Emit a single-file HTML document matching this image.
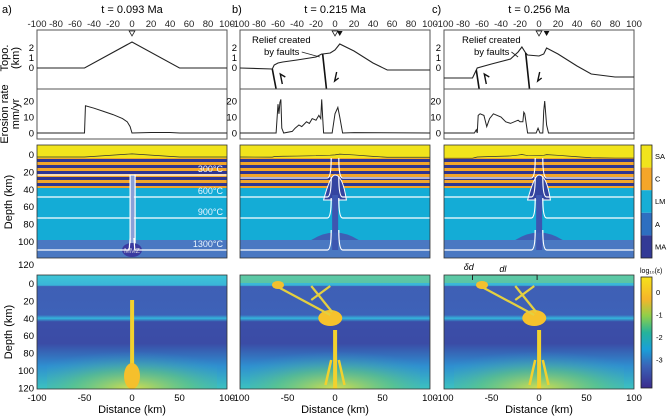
<!DOCTYPE html>
<html><head><meta charset="utf-8">
<style>
html,body{margin:0;padding:0;background:#fff;width:668px;height:419px;overflow:hidden;}
svg{display:block;font-family:"Liberation Sans",sans-serif;}
</style></head>
<body>
<svg id="fig" width="668" height="419" viewBox="0 0 668 419" xmlns="http://www.w3.org/2000/svg">
<defs>
  <linearGradient id="cbStrain" x1="0" y1="0" x2="0" y2="1">
    <stop offset="0" stop-color="#f7e21a"/><stop offset="0.2" stop-color="#f5b52a"/>
    <stop offset="0.35" stop-color="#8fcf4a"/><stop offset="0.5" stop-color="#25b39a"/>
    <stop offset="0.65" stop-color="#1aa0d8"/><stop offset="0.8" stop-color="#3a63b8"/>
    <stop offset="1" stop-color="#3b2b8c"/>
  </linearGradient>
  <linearGradient id="strainBg" x1="0" y1="0" x2="0" y2="1">
    <stop offset="0" stop-color="#3ec6d6"/><stop offset="0.09" stop-color="#3ab5d8"/>
    <stop offset="0.1" stop-color="#3f5fb5"/><stop offset="0.35" stop-color="#3d62b8"/>
    <stop offset="0.38" stop-color="#33b5dc"/><stop offset="0.41" stop-color="#3b4ea8"/>
    <stop offset="0.6" stop-color="#3b4ca6"/><stop offset="0.8" stop-color="#2f8fd0"/>
    <stop offset="1" stop-color="#3cc3c0"/>
  </linearGradient>
  <radialGradient id="plumeGlow" gradientUnits="objectBoundingBox" cx="0.5" cy="1" r="0.7">
    <stop offset="0" stop-color="#e8e040" stop-opacity="0.9"/>
    <stop offset="0.5" stop-color="#6cc870" stop-opacity="0.55"/>
    <stop offset="1" stop-color="#2ea0d0" stop-opacity="0"/>
  </radialGradient>
  <pattern id="stripes" width="6" height="6" patternUnits="userSpaceOnUse">
    <rect width="6" height="3" fill="#f2a52a"/><rect y="3" width="6" height="3" fill="#2e3592"/>
  </pattern>
  <clipPath id="clipS0"><rect x="37" y="275" width="190" height="114"/></clipPath>
  <clipPath id="clipS1"><rect x="240" y="275" width="190" height="114"/></clipPath>
  <clipPath id="clipS2"><rect x="444" y="275" width="190" height="114"/></clipPath>
</defs>
<g id="root"></g>
</svg>
<script>
// ---- data ----
const panelTitles = ["t = 0.093 Ma", "t = 0.215 Ma", "t = 0.256 Ma"];
const panelLetters = ["a)", "b)", "c)"];
const distTicks = [-100,-80,-60,-40,-20,0,20,40,60,80,100];
const bottomTicks = [-100,-50,0,50,100];
const topoTicks = [0,1,2];
const erosionTicks = [0,10,20];
const depthTicks = [0,20,40,60,80,100,120];
const isothermLabels = ["300°C","600°C","900°C","1300°C"];
const materialLabels = ["SA","C","LM","A","MA"];
const strainTicks = [0,-1,-2,-3];

const topoXa = [-100,-50,0,50,100];
const topoYa = [0,0,2.6,0,0];
const topoXb = [-100,-66,-64,-60,-55,-40,-20,-14,-13,-5,0,5,20,40,55,100];
const topoYb = [0,-0.1,0.3,0.5,0.6,0.8,1.1,1.4,1.4,1.5,1.8,2.4,1.7,0.5,-0.2,-0.2];
const topoXc = [-100,-70,-67,-65,-50,-30,-22,-18,-14,-12,0,5,8,20,40,55,80,100];
const topoYc = [-1,-1,-0.4,0,0.4,0.9,1.6,2.1,1.5,1.3,1.2,1.4,2.0,1.4,0.2,-0.6,-0.9,-0.9];

const eroXa = [-100,-50,-49,-40,-30,-20,-10,-5,-2,0,20,40,50,100];
const eroYa = [0,0,17,15.5,13.5,11.5,9,7,4,0,0.3,0.3,0,0];
const eroXb = [-100,-62,-60,-59,-58,-57,-56,-54,-45,-42,-38,-35,-30,-27,-24,-20,-17,-15,-14,-13,-12,-6,-3,0,3,5,8,20,100];
const eroYb = [0,0,18,12,19,21,3,0,1,3,5,4,7,6,9,8,11,9,21,10,0,0,0,12,16,10,0,0.2,0];
const eroXc = [-100,-68,-66,-65,-64,-62,-58,-55,-52,-48,-40,-35,-30,-22,-20,-17,-16,-15,-12,-5,-3,-1,1,4,5,6,8,10,100];
const eroYc = [0,0,2,0,11,12,11,4,9,12,10,7,6,8,7,7,13,12,0,0,0,3,0,0,14,20,5,0,0];

const faultsB = [[-66,-0.1,-62,-2.1],[-13,1.4,-9,-2.1]];
const faultsC = [[-66,-0.2,-63,-2.1],[-14,1.5,-10,-2.1]];

// ---- layout ----
const NS = "http://www.w3.org/2000/svg";
const root = document.getElementById("root");
const panelX0 = [37, 240, 444];
const letterX = [2, 232, 432];
const PW = 190;
function mk(tag, attrs, parent, text){
  const e = document.createElementNS(NS, tag);
  for (const k in attrs) e.setAttribute(k, attrs[k]);
  if (text !== undefined) e.textContent = text;
  (parent||root).appendChild(e);
  return e;
}
function xs(p, km){ return panelX0[p] + (km+100)/200*PW; }
const topoY = v => 68 - 10*v;
const eroY = v => 133 - 1.6*v;
const depthY = d => 155 + d*0.87;
const strainY = d => 284 + d*0.87;

const topoData = [[topoXa,topoYa],[topoXb,topoYb],[topoXc,topoYc]];
const eroData = [[eroXa,eroYa],[eroXb,eroYb],[eroXc,eroYc]];
const faults = [[], faultsB, faultsC];

for (let p=0;p<3;p++){
  const x0 = panelX0[p];
  const g = mk("g", {}, root);
  
  
  let t = mk("text",{x:letterX[p],y:13,"font-size":"11"},g,panelLetters[p]);
  
  
  t = mk("text",{x:x0+PW/2,y:13,"font-size":"11","text-anchor":"middle"},g,panelTitles[p]);
  
  
  distTicks.forEach(v=>{
    const l = mk("text",{x:xs(p,v),y:27,"font-size":"9.5","text-anchor":"middle",fill:"#222"},g,String(v));
    
    
  });
  const tb = mk("rect",{x:x0,y:30,width:PW,height:59,fill:"#fff",stroke:"#555","stroke-width":"1"},g);
  
  
  topoTicks.forEach(v=>{
    const l = mk("text",{x:x0-3,y:topoY(v)+3,"font-size":"9.5","text-anchor":"end"},g,String(v));
    
    
  });
  const [tx,ty] = topoData[p];
  const tl = mk("polyline",{points:tx.map((v,i)=>xs(p,v)+","+topoY(ty[i])).join(" "),fill:"none",stroke:"#222","stroke-width":"1.1"},g);
  
  
  faults[p].forEach((f,i)=>{
    const fl = mk("line",{x1:xs(p,f[0]),y1:topoY(f[1]),x2:xs(p,f[2]),y2:topoY(f[3]),stroke:"#111","stroke-width":"1.6"},g);
    
    
    const ax = xs(p,f[0])+ (i===0?10:12), ay = 78;
    const ar = mk("polyline",{points: i===0 ? `${ax},${ay+6} ${ax-2},${ay-4} ${ax+3},${ay-1}` : `${ax+2},${ay-6} ${ax},${ay+3} ${ax+4},${ay}`,fill:"none",stroke:"#111","stroke-width":"1.4"},g);
    
    
  });
  if (p>0){
    const a1 = mk("text",{x:x0+12+(p===2?6:0),y:43,"font-size":"9.5"},g,"Relief created");
    
    
    const a2 = mk("text",{x:x0+24+(p===2?6:0),y:55,"font-size":"9.5"},g,"by faults");
    
    
    const al = mk("line",{x1:xs(p,p===1?-35:-29),y1:52,x2:xs(p,p===1?-16:-22),y2:57,stroke:"#222","stroke-width":"0.8"},g);
    
    
  }
  const mOpen = mk("path",{d:`M${xs(p,-3)},31 L${xs(p,3)},31 L${xs(p,0)},36 Z`,fill:"#fff",stroke:"#222","stroke-width":"0.8"},g);
  
  
  if (p>0){
    const fx = p===1?5:8;
    const mF = mk("path",{d:`M${xs(p,fx-3)},31 L${xs(p,fx+3)},31 L${xs(p,fx)},36 Z`,fill:"#111"},g);
    
    
  }
  const eb = mk("rect",{x:x0,y:89,width:PW,height:50,fill:"#fff",stroke:"#555","stroke-width":"1"},g);
  
  
  erosionTicks.forEach(v=>{
    const l = mk("text",{x:x0-3,y:eroY(v)+3.5,"font-size":"9.5","text-anchor":"end"},g,String(v));
    
    
  });
  const [ex,ey] = eroData[p];
  const el = mk("polyline",{points:ex.map((v,i)=>xs(p,v)+","+eroY(ey[i])).join(" "),fill:"none",stroke:"#222","stroke-width":"1"},g);
  
  

  // material panel
  const mg = mk("g",{},g);
  
  
  mk("rect",{x:x0,y:145,width:PW,height:113,fill:"#4a78c2"},mg);
  mk("rect",{x:x0,y:145,width:PW,height:95,fill:"#14acd6"},mg);
  mk("rect",{x:x0,y:157,width:PW,height:31,fill:"url(#stripes)"},mg);
  mk("rect",{x:x0,y:145,width:PW,height:13,fill:"#f1e41c"},mg);
  mk("polyline",{points:tx.map((v,i)=>xs(p,v)+","+(157-ty[i]*1.2)).join(" "),fill:"none",stroke:"#333","stroke-width":"0.7"},mg);
  if (p===0){
    mk("rect",{x:xs(p,-2),y:175,width:5,height:70,fill:"#8aa0d8",stroke:"#fff","stroke-width":"1.2"},mg);
    mk("ellipse",{cx:xs(p,0),cy:250,rx:10,ry:7,fill:"#3a3aa0"},mg);
    const mm = mk("text",{x:xs(p,0),y:253,"font-size":"7",fill:"#ccd","text-anchor":"middle"},mg,"MMZ");
    
    
  } else {
    mk("path",{d:`M${xs(p,-12)},200 Q${xs(p,-5)},175 ${xs(p,0)},175 Q${xs(p,8)},175 ${xs(p,12)},200 Z`,fill:"#3444a0",stroke:"#fff","stroke-width":"1"},mg);
    mk("rect",{x:xs(p,-3),y:195,width:6,height:55,fill:"#3d56b0"},mg);
    mk("path",{d:`M${xs(p,-25)},240 Q${xs(p,0)},225 ${xs(p,25)},240 Z`,fill:"#3d5fb5"},mg);
  }
  const isoY = p===0 ? [175,197,218,250] : [178,197,218,250];
  isoY.forEach((y,i)=>{
    const d = p===0
      ? `M${x0},${y} L${xs(p,-3)},${y} L${xs(p,-2)},${i===3?y-12:y} M${xs(p,2)},${i===3?y-12:y} L${xs(p,3)},${y} L${x0+PW},${y}`
      : `M${x0},${y} L${xs(p,-8)},${y} Q${xs(p,-4)},${y} ${xs(p,-4)},${y-20} M${xs(p,4)},${y-20} Q${xs(p,4)},${y} ${xs(p,8)},${y} L${x0+PW},${y}`;
    const il = mk("path",{d,fill:"none",stroke:"#fff","stroke-width":"1.2"},mg);
    
    
    if (p===0){
      const lt = mk("text",{x:x0+PW-4,y:y-3,"font-size":"9","text-anchor":"end",fill:"#e8f4ff"},mg,isothermLabels[i]);
      
      
    }
  });
  mk("rect",{x:x0,y:145,width:PW,height:113,fill:"none",stroke:"#333","stroke-width":"0.8"},mg);

  // strain panel
  const sg = mk("g",{},g);
  
  
  const sc = mk("g",{"clip-path":`url(#clipS${p})`},sg);
  mk("rect",{x:x0,y:275,width:PW,height:114,fill:"url(#strainBg)"},sc);
  mk("rect",{x:x0+10,y:335,width:PW-20,height:54,fill:"url(#plumeGlow)"},sc);
  mk("rect",{x:xs(p,-2),y:p===0?300:330,width:4,height:p===0?89:59,fill:"#f2d12e"},sc);
  if (p===0){
    mk("ellipse",{cx:xs(p,0),cy:376,rx:8,ry:13,fill:"#f5c02c"},sc);
  } else {
    mk("path",{d:`M${xs(p,-4)},360 L${xs(p,-10)},385 M${xs(p,4)},360 L${xs(p,10)},385`,stroke:"#f2d12e","stroke-width":"2.5",fill:"none"},sc);
    mk("rect",{x:x0,y:275,width:PW,height:8,fill:"#7ccf74","fill-opacity":"0.5"},sc);
    mk("ellipse",{cx:xs(p,-5),cy:318,rx:12,ry:8,fill:"#f6c22c"},sc);
    mk("path",{d:`M${xs(p,-60)},287 L${xs(p,-5)},315 M${xs(p,-25)},286 L${xs(p,-3)},312 M${xs(p,-5)},286 L${xs(p,-25)},300`,stroke:"#e4d040","stroke-width":"2.2",fill:"none"},sc);
    mk("ellipse",{cx:xs(p,-60),cy:285,rx:6,ry:4,fill:"#f3c02e"},sc);
  }
  mk("rect",{x:x0,y:275,width:PW,height:114,fill:"none",stroke:"#333","stroke-width":"0.8"},sg);
  if (p===2){
    mk("path",{d:`M${xs(p,-70)},280 L${xs(p,-70)},275 L${xs(p,-2)},275 L${xs(p,-2)},280`,fill:"none",stroke:"#222","stroke-width":"1"},sg);
    const d1 = mk("text",{x:xs(p,-74),y:270,"font-size":"9","font-style":"italic","text-anchor":"middle"},sg,"δd");
    
    
    const d2 = mk("text",{x:xs(p,-38),y:272,"font-size":"9","font-style":"italic","text-anchor":"middle"},sg,"dl");
    
    
  }
  bottomTicks.forEach(v=>{
    const l = mk("text",{x:xs(p,v),y:401,"font-size":"9.5","text-anchor":"middle"},g,String(v));
    
    
  });
  const xt = mk("text",{x:x0+PW/2,y:413,"font-size":"11","text-anchor":"middle"},g,"Distance (km)");
  
  
}

depthTicks.forEach(v=>{
  const y = v===120 ? 268 : depthY(v)+3;
  const l = mk("text",{x:34,y,"font-size":"9.5","text-anchor":"end"},root,String(v));
  
  
  const l2 = mk("text",{x:34,y:strainY(v)+3,"font-size":"9.5","text-anchor":"end"},root,String(v));
  
  
});
function vlabel(lines, cx, cy, name){
  lines.forEach((s,i)=>{
    const t = mk("text",{x:0,y:0,"font-size":"11","text-anchor":"middle",transform:`translate(${cx+i*11},${cy}) rotate(-90)`},root,s);
    
    
  });
}
vlabel(["Topo.","(km)"],8,58,"topo-axis-title");
vlabel(["Erosion rate","mm/yr"],8,114,"erosion-axis-title");
vlabel(["Depth (km)"],12,202,"depth-axis-title");
vlabel(["Depth (km)"],12,332,"strain-depth-axis-title");

const cb1 = mk("g",{},root);


const matCols = ["#f1e41c","#f4a62a","#17aed6","#2e6fc0","#333a96"];
matCols.forEach((c,i)=>{ mk("rect",{x:641,y:145+i*22.6,width:11,height:22.6,fill:c},cb1); });
mk("rect",{x:641,y:145,width:11,height:113,fill:"none",stroke:"#222","stroke-width":"0.8"},cb1);
materialLabels.forEach((s,i)=>{
  const t = mk("text",{x:655,y:159+i*22.6,"font-size":"7.5"},cb1,s);
  
  
});
const cb2 = mk("g",{},root);


mk("rect",{x:641,y:277,width:11,height:111,fill:"url(#cbStrain)",stroke:"#222","stroke-width":"0.8"},cb2);
const lt = mk("text",{x:640,y:273,"font-size":"7"},cb2,"log₁₀(ε)");


strainTicks.forEach((v,i)=>{
  const t = mk("text",{x:656,y:295+i*22.5,"font-size":"7.5"},cb2,String(v));
  
  
});
</script>
</body></html>
